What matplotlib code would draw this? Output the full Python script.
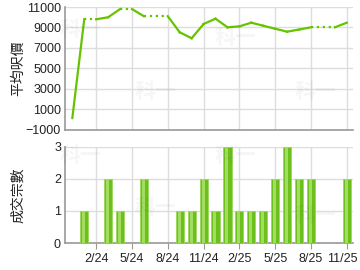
import numpy as np
import matplotlib
matplotlib.use('Agg')
import matplotlib.pyplot as plt

plt.rcParams['font.family'] = ['Liberation Sans', 'Noto Sans CJK TC', 'DejaVu Sans']

# months since 1/2024 (12/23 = -1 ... 11/25 = 22)
months = list(range(-1, 23))
# average price per sq ft, None = no transactions that month
price = [150, 9800, None, 10000, 10800, None, 10100, None, None, 8530, 7950, 9340,
         9860, 9020, 9110, 9470, 9170, 8880, 8590, 8800, 9020, None, None, 9470]
# number of transactions
deals = [0, 1, 0, 2, 1, 0, 2, 0, 0, 1, 1, 2,
         1, 3, 1, 1, 1, 2, 3, 2, 2, 0, 0, 2]
tick_pos = [1, 4, 7, 10, 13, 16, 19, 22]
tick_labels = ['2/24', '5/24', '8/24', '11/24', '2/25', '5/25', '8/25', '11/25']

green = '#66c300'
grid = '#dddddd'
spine = '#999999'

fig = plt.figure(figsize=(3.6, 2.7), dpi=100)
ax1 = fig.add_axes([0.181, 0.519, 0.799, 0.455])
ax2 = fig.add_axes([0.181, 0.100, 0.799, 0.356])

# line: solid between known points, dotted flat carry-over through gaps
last_x, last_y = None, None
for m, p in zip(months, price):
    if p is None:
        continue
    if last_x is not None:
        if m - last_x > 1:
            ax1.plot([last_x, m - 1], [last_y, last_y], ':', color=green, lw=1.6)
            ax1.plot([m - 1, m], [last_y, p], '-', color=green, lw=1.6)
        else:
            ax1.plot([last_x, m], [last_y, p], '-', color=green, lw=1.6)
    last_x, last_y = m, p

# bars: darker outer, lighter inner stripe
ax2.bar(months, deals, width=0.68, color='#6cc01c', edgecolor='#9ad85a', linewidth=0.6, zorder=3)
ax2.bar(np.array(months) - 0.05, deals, width=0.25, color='#a2dd62', linewidth=0, zorder=4)

for ax in (ax1, ax2):
    ax.set_xlim(-1.6, 22.5)
    ax.set_xticks(tick_pos)
    ax.grid(True, color=grid, lw=1)
    ax.set_axisbelow(True)
    for s in ('top', 'right'):
        ax.spines[s].set_visible(False)
    for s in ('left', 'bottom'):
        ax.spines[s].set_color(spine)
        ax.spines[s].set_linewidth(1.2)
    ax.tick_params(colors='#222222', labelsize=9, length=0, pad=3)
    ax.tick_params(axis='x', length=4, color=spine)

ax1.set_ylim(-1000, 11000)
ax1.set_yticks(range(-1000, 11001, 2000))
ax1.set_xticklabels([])
ax1.tick_params(axis='x', length=0)
ax1.set_ylabel('平均呎價', fontsize=10, color='#222222', family=['Noto Sans CJK TC'])
ax1.yaxis.set_label_coords(-0.14, 0.5)

ax2.set_ylim(0, 3)
ax2.set_yticks([0, 1, 2, 3])
# last label would run off the right edge, so it is placed by hand a bit left
ax2.set_xticklabels(tick_labels[:-1] + [''])
ax2.annotate(tick_labels[-1], xy=(tick_pos[-1], 0), xycoords=('data', 'axes fraction'),
             xytext=(-3, -7), textcoords='offset points', ha='center', va='top',
             fontsize=9, color='#222222', annotation_clip=False)
ax2.set_ylabel('成交宗數', fontsize=10, color='#222222', family=['Noto Sans CJK TC'])
ax2.yaxis.set_label_coords(-0.14, 0.5)

# faint watermarks (figure pixel positions)
for x, y in [(60, 30), (135, 92), (215, 38), (295, 92),
             (60, 155), (135, 208), (215, 155), (295, 215)]:
    fig.text(x / 360, 1 - y / 270, '科一', fontsize=15, fontweight='bold', va='center',
             color='#000000', alpha=0.035, family=['Noto Sans CJK TC'], zorder=0)

fig.savefig('out.png', dpi=100)
